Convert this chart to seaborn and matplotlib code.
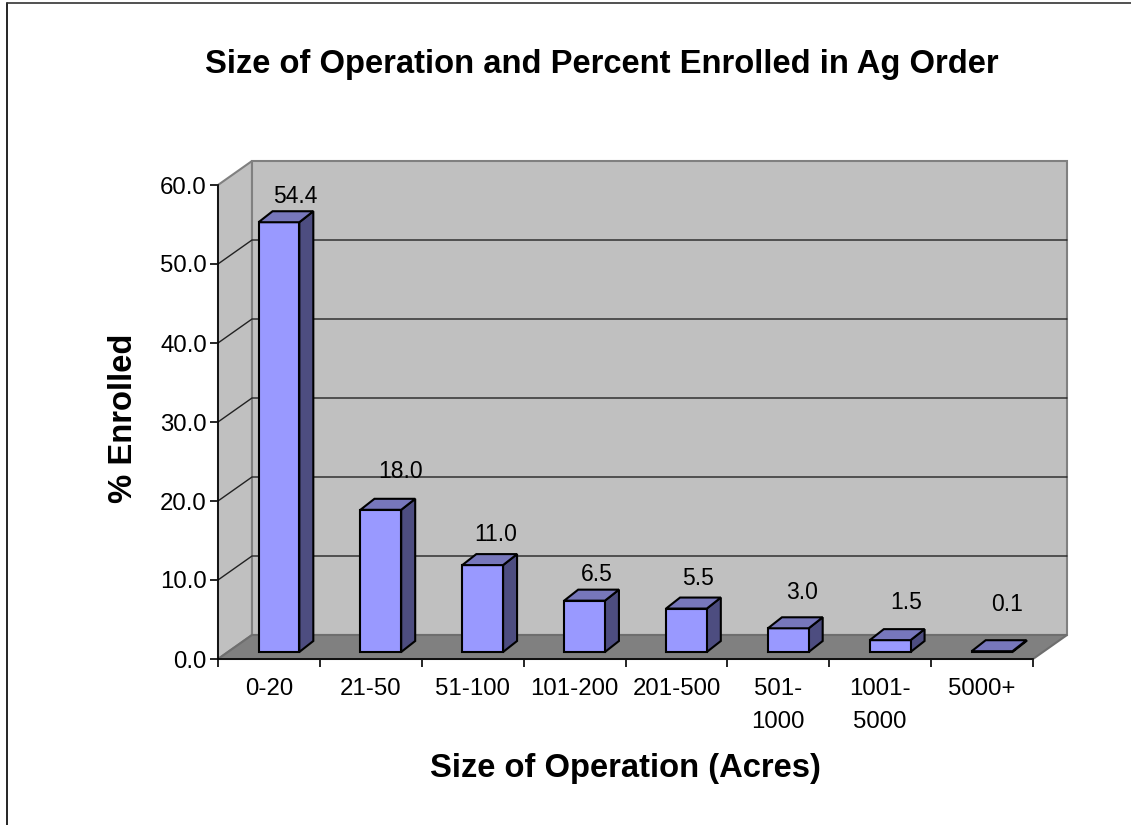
import matplotlib
matplotlib.use("Agg")
import matplotlib.pyplot as plt
import seaborn as sns
from matplotlib.lines import Line2D
from matplotlib.patches import Polygon
from matplotlib.transforms import Affine2D

sizes = ["0-20", "21-50", "51-100", "101-200", "201-500", "501-\n1000", "1001-\n5000", "5000+"]
enrolled = [54.4, 18.0, 11.0, 6.5, 5.5, 3.0, 1.5, 0.1]
value_labels = ["54.4", "18.0", "11.0", "6.5", "5.5", "3.0", "1.5", "0.1"]
y_ticks = [0, 10, 20, 30, 40, 50, 60]

W, H = 1131, 825
sns.set_style("white")
plt.rcParams["font.family"] = ["Liberation Sans", "DejaVu Sans"]
plt.rcParams["text.color"] = "black"
plt.rcParams["xtick.color"] = "black"
plt.rcParams["ytick.color"] = "black"

fig = plt.figure(figsize=(W / 100, H / 100), dpi=100)
ax = fig.add_axes([218 / W, 1 - 659 / H, 815 / W, 474 / H])

sns.barplot(x=list(range(8)), y=enrolled, width=0.4, color="#9999ff", saturation=1,
            edgecolor="black", linewidth=1.5, ax=ax, zorder=5)
ax.set_xlim(-0.5, 7.5)
ax.set_ylim(0, 60)

# depth of the fake 3d box, in pixels
wall_dx, wall_dy = 34, 24
bar_dx, bar_dy = 14, 11
nudge_dx, nudge_dy = 10, 7


def pts(*xy):
    return [ax.transData.transform(p) for p in xy]


def add_poly(corners, face, edge, lw=1.5, z=1):
    ax.add_patch(Polygon(corners, closed=True, facecolor=face, edgecolor=edge, linewidth=lw,
                         transform=Affine2D(), clip_on=False, zorder=z))


bars = list(ax.patches)
(x0, y0), (x1, y1) = pts((-0.5, 0), (7.5, 60))

# walls and floor
add_poly([(x0, y0), (x0 + wall_dx, y0 + wall_dy), (x0 + wall_dx, y1 + wall_dy), (x0, y1)], "#c0c0c0", "#808080", 1.5)
add_poly([(x0 + wall_dx, y0 + wall_dy), (x1 + wall_dx, y0 + wall_dy), (x1 + wall_dx, y1 + wall_dy),
          (x0 + wall_dx, y1 + wall_dy)], "#c0c0c0", "#808080", 1.5)
add_poly([(x0, y0), (x1, y0), (x1 + wall_dx, y0 + wall_dy), (x0 + wall_dx, y0 + wall_dy)], "#808080", "#6e6e6e", 1.5, 2)

# gridlines, back wall plus the diagonal on the side wall
for t in y_ticks[1:-1]:
    (_, yy), = pts((0, t))
    ax.add_line(Line2D([x0, x0 + wall_dx, x1 + wall_dx], [yy, yy + wall_dy, yy + wall_dy], color="#222222",
                       linewidth=1, transform=Affine2D(), clip_on=False, zorder=3))

# bars: move the seaborn rectangles back a bit and add the side and top faces
shift = Affine2D().translate(nudge_dx, nudge_dy)
for bar in bars:
    bx, bw, bh = bar.get_x(), bar.get_width(), bar.get_height()
    (a, b), (c, d) = pts((bx, 0), (bx + bw, bh))
    a, c = a + nudge_dx, c + nudge_dx
    b, d = b + nudge_dy, d + nudge_dy
    add_poly([(c, b), (c + bar_dx, b + bar_dy), (c + bar_dx, d + bar_dy), (c, d)], "#4d4d80", "black", 1.5, 4)
    add_poly([(a, d), (c, d), (c + bar_dx, d + bar_dy), (a + bar_dx, d + bar_dy)], "#7777bb", "black", 1.5, 6)
    bar.set_transform(bar.get_data_transform() + shift)
    bar.set_clip_on(False)

# value labels sit at uneven heights in the original
label_dx = [26, 30, 23, 22, 22, 24, 26, 25]
label_dy = [33, 45, 38, 33, 37, 43, 45, 54]
for i, (v, s) in enumerate(zip(enrolled, value_labels)):
    ax.annotate(s, (i, v), xytext=(label_dx[i] * 0.72, label_dy[i] * 0.72), textcoords="offset points",
                ha="center", va="center", fontsize=16.5, color="black", zorder=8, annotation_clip=False)

ax.set_yticks(y_ticks)
ax.set_yticklabels([f"{t:.1f}" for t in y_ticks], fontsize=17.3)
ax.set_xticks(range(8))
ax.set_xticklabels(sizes, fontsize=17.3, linespacing=1.65)
ax.set_xticks([i - 0.5 for i in range(9)], minor=True)
ax.tick_params(axis="x", which="major", length=0, pad=14)
ax.tick_params(axis="x", which="minor", length=6, width=1.2, color="black", bottom=True)
ax.tick_params(axis="y", length=6, width=1.2, color="black", left=True, pad=2)
ax.set_xlabel("")
ax.set_ylabel("")

sns.despine(ax=ax, top=True, right=True)
for side in ["left", "bottom"]:
    ax.spines[side].set_color("black")
    ax.spines[side].set_linewidth(1.2)
    ax.spines[side].set_zorder(7)

fig.text(602 / W, 1 - 64 / H, "Size of Operation and Percent Enrolled in Ag Order", ha="center", va="center",
         fontsize=23.6, fontweight="bold")
fig.text(625 / W, 1 - 768 / H, "Size of Operation (Acres)", ha="center", va="center", fontsize=23.6, fontweight="bold")
fig.text(123 / W, 1 - 418 / H, "% Enrolled", ha="center", va="center", rotation=90, fontsize=23.6, fontweight="bold")

# frame of the pasted chart, runs off the right and bottom
fig.add_artist(Line2D([7 / W, 7 / W], [0, 1 - 3 / H], color="black", linewidth=1.2))
fig.add_artist(Line2D([7 / W, 1], [1 - 3 / H, 1 - 3 / H], color="#333333", linewidth=1.2))

fig.savefig("out.png", dpi=100)
